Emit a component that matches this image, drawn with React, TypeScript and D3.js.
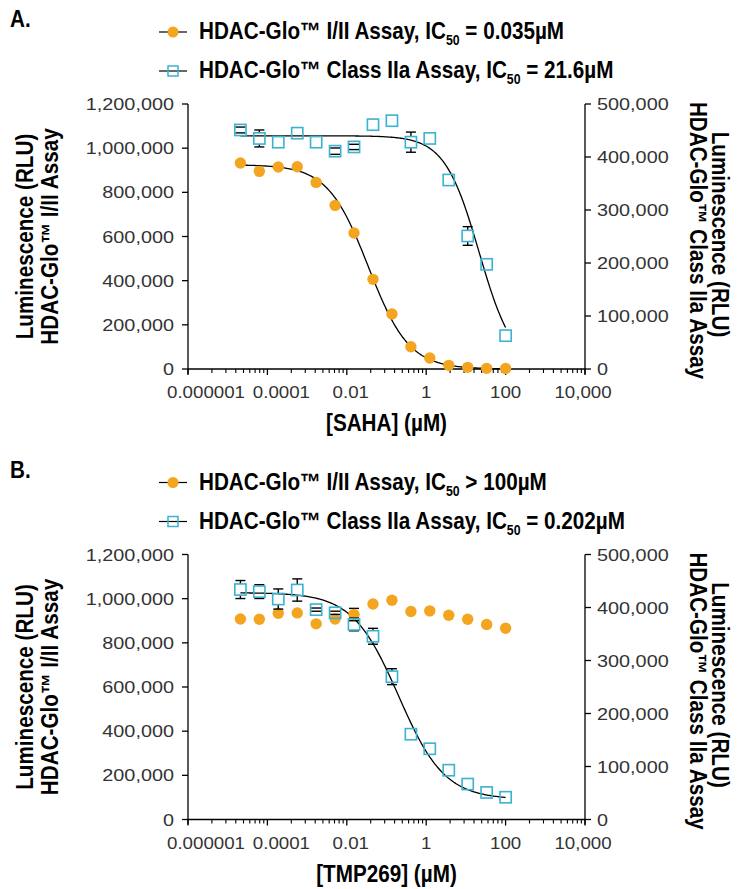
import React from 'react';
import * as d3 from 'd3';

// ---------- data ----------
const concentrations = [0.0000209, 0.0000627, 0.000188, 0.000565, 0.00169, 0.00508, 0.0152, 0.0457, 0.137, 0.412, 1.23, 3.7, 11.1, 33.3, 100];

// Panel A: SAHA
const sahaClassI = [932800, 895000, 914700, 916000, 845000, 741000, 616000, 406000, 249000, 101000, 50000, 16600, 7500, 3000, 2000];
const sahaClassIErr = [0, 0, 0, 0, 0, 0, 0, 0, 0, 0, 0, 0, 0, 0, 0];
const sahaClassIIa = [451000, 435000, 428000, 445000, 428000, 411000, 419000, 461000, 468500, 428000, 435000, 356600, 251000, 197500, 62900];
const sahaClassIIaErr = [5500, 16000, 0, 0, 0, 6000, 5000, 0, 0, 19000, 0, 0, 17600, 0, 0];

// Panel B: TMP269
const tmpClassI = [908000, 907000, 934000, 935500, 886000, 908000, 928000, 976000, 993000, 941600, 944600, 925000, 907000, 883000, 866000];
const tmpClassIErr = [0, 0, 0, 0, 0, 0, 28000, 0, 0, 0, 0, 0, 0, 0, 0];
const tmpClassIIa = [433900, 430000, 416000, 433000, 396000, 390000, 368000, 345700, 269500, 161000, 133500, 93000, 66800, 51000, 42000];
const tmpClassIIaErr = [17000, 13000, 19000, 21000, 3000, 3000, 12000, 15000, 15000, 0, 0, 0, 0, 0, 0];

// 4-parameter logistic fit parameters
const sahaFitI = { top: 925000, bottom: 0, ic50: 0.035, hill: 0.85 };
const sahaFitIIa = { top: 440000, bottom: 0, ic50: 21.6, hill: 1.0 };
const tmpFitIIa = { top: 428000, bottom: 38000, ic50: 0.202, hill: 0.75 };

const xTickValues = [1e-6, 1e-4, 1e-2, 1, 100, 1e4];
const xTickLabels = ['0.000001', '0.0001', '0.01', '1', '100', '10,000'];
const leftTicks = [0, 200000, 400000, 600000, 800000, 1000000, 1200000];
const rightTicks = [0, 100000, 200000, 300000, 400000, 500000];

// ---------- style ----------
const ORANGE = '#F4A520';
const BLUE = '#3BB2D0';
const TICK_FONT = '"Liberation Sans", Arial, Helvetica, sans-serif';
const BOLD_FONT = '"Liberation Sans", Arial, Helvetica, sans-serif';
const TICK_SIZE = 16;
const TICK_SX = 1.17;
const YTICK_SX = 1.24;
const BOLD_SIZE = 23.5;
const BOLD_SX = 0.88;

const X0 = 188;
const X1 = 585;

function SText({ x, y, sx = 1, rotate = 0, anchor = 'start', size, weight = 'normal', fill = '#000', family, children }: any) {
  return (
    <text
      transform={`translate(${x},${y}) rotate(${rotate}) scale(${sx},1)`}
      textAnchor={anchor}
      fontSize={size}
      fontWeight={weight}
      fill={fill}
      fontFamily={family}
    >
      {children}
    </text>
  );
}

function fit4pl(p: any, x: number) {
  return p.bottom + (p.top - p.bottom) / (1 + Math.pow(x / p.ic50, p.hill));
}

function LegendLine({ y, kind, pre, post }: any) {
  return (
    <g>
      <line x1={159} x2={187} y1={y} y2={y} stroke="#000" strokeWidth={1.2} />
      {kind === 'circle' ? (
        <circle cx={173} cy={y} r={5.5} fill={ORANGE} />
      ) : (
        <rect x={173 - 5} y={y - 5} width={10} height={10} fill="none" stroke={BLUE} strokeWidth={1.5} />
      )}
      <SText x={199} y={y + 7} sx={BOLD_SX} size={BOLD_SIZE} weight="bold" family={BOLD_FONT}>
        {pre}
        <tspan fontSize={14} dy={6}>50</tspan>
        <tspan dy={-6}>{post}</tspan>
      </SText>
    </g>
  );
}

function Panel({ yTop, yBottom, letter, legend, xTitle, classI, classIErr, classIIa, classIIaErr, fitI, fitIIa }: any) {
  const x = d3.scaleLog().domain([1e-6, 1e4]).range([X0, X1]);
  const yL = d3.scaleLinear().domain([0, 1200000]).range([yBottom, yTop]);
  const yR = d3.scaleLinear().domain([0, 500000]).range([yBottom, yTop]);
  const fmt = d3.format(',');

  // minor ticks: within each 2-decade major interval
  const minor: number[] = [];
  for (let i = 0; i < xTickValues.length - 1; i++) {
    for (let k = 2; k <= 9; k++) minor.push(xTickValues[i] * k * k);
  }

  const cmin = d3.min(concentrations) as number;
  const cmax = d3.max(concentrations) as number;
  const samples = d3.range(0, 201).map((i) => Math.pow(10, Math.log10(cmin) + (Math.log10(cmax) - Math.log10(cmin)) * (i / 200)));
  const line = (p: any, ys: any) =>
    d3.line<number>().x((c) => x(c)).y((c) => ys(fit4pl(p, c))).curve(d3.curveLinear)(samples) || '';

  const half = 5.6;
  const errBar = (cx: number, cy: number, e: number, ys: any, inner: number, key: string) => {
    if (!e) return null;
    const yt = ys(ys.invert(cy) + e);
    const yb = ys(ys.invert(cy) - e);
    return (
      <g key={key} stroke="#000" strokeWidth={1.4}>
        {cy - yt > inner && <line x1={cx} x2={cx} y1={yt} y2={cy - inner} />}
        {yb - cy > inner && <line x1={cx} x2={cx} y1={cy + inner} y2={yb} />}
        <line x1={cx - 5} x2={cx + 5} y1={yt} y2={yt} />
        <line x1={cx - 5} x2={cx + 5} y1={yb} y2={yb} />
      </g>
    );
  };

  const midY = (yTop + yBottom) / 2;

  return (
    <g>
      {/* panel letter */}
      <SText x={10} y={yTop - 77} sx={BOLD_SX} size={BOLD_SIZE} weight="bold" family={BOLD_FONT}>{letter}</SText>
      {/* legend */}
      <LegendLine y={yTop - 72} kind="circle" pre={legend[0][0]} post={legend[0][1]} />
      <LegendLine y={yTop - 33} kind="square" pre={legend[1][0]} post={legend[1][1]} />

      {/* axes */}
      <g stroke="#000" strokeWidth={1.3} fill="none">
        <line x1={X0} x2={X0} y1={yTop} y2={yBottom + 5} />
        <line x1={X1} x2={X1} y1={yTop} y2={yBottom + 5} />
        <line x1={X0} x2={X1} y1={yBottom} y2={yBottom} />
        {leftTicks.map((t) => (
          <line key={'lt' + t} x1={X0 - 6} x2={X0} y1={yL(t)} y2={yL(t)} />
        ))}
        {rightTicks.map((t) => (
          <line key={'rt' + t} x1={X1} x2={X1 + 6} y1={yR(t)} y2={yR(t)} />
        ))}
        {xTickValues.map((t) => (
          <line key={'xt' + t} x1={x(t)} x2={x(t)} y1={yBottom} y2={yBottom + 6} />
        ))}
        {minor.map((t, i) => (
          <line key={'mt' + i} x1={x(t)} x2={x(t)} y1={yBottom} y2={yBottom + 4} strokeWidth={1.1} />
        ))}
      </g>

      {/* tick labels */}
      {leftTicks.map((t) => (
        <SText key={'ll' + t} x={174} y={yL(t) + 6} sx={YTICK_SX} anchor="end" size={TICK_SIZE} fill="#333" family={TICK_FONT}>
          {fmt(t)}
        </SText>
      ))}
      {rightTicks.map((t) => (
        <SText key={'rl' + t} x={597} y={yR(t) + 6} sx={YTICK_SX} anchor="start" size={TICK_SIZE} fill="#333" family={TICK_FONT}>
          {fmt(t)}
        </SText>
      ))}
      {xTickValues.map((t, i) => (
        <SText key={'xl' + t} x={x(t) + (i === 0 ? 18 : i === 1 ? 14 : i === 2 ? 4 : 0) - (i === 5 ? 2 : 0)} y={yBottom + 29} sx={TICK_SX} anchor="middle" size={TICK_SIZE} fill="#333" family={TICK_FONT}>
          {xTickLabels[i]}
        </SText>
      ))}

      {/* axis titles */}
      <SText x={(X0 + X1) / 2} y={yBottom + 62} sx={BOLD_SX} anchor="middle" size={BOLD_SIZE} weight="bold" family={BOLD_FONT}>{xTitle}</SText>
      <SText x={33} y={midY} rotate={-90} sx={BOLD_SX} anchor="middle" size={BOLD_SIZE} weight="bold" family={BOLD_FONT}>Luminescence (RLU)</SText>
      <SText x={58} y={midY} rotate={-90} sx={BOLD_SX} anchor="middle" size={BOLD_SIZE} weight="bold" family={BOLD_FONT}>HDAC-Glo™ I/II Assay</SText>
      <SText x={712} y={midY - 2} rotate={90} sx={BOLD_SX} anchor="middle" size={BOLD_SIZE} weight="bold" family={BOLD_FONT}>Luminescence (RLU)</SText>
      <SText x={690} y={midY + 4} rotate={90} sx={BOLD_SX} anchor="middle" size={BOLD_SIZE} weight="bold" family={BOLD_FONT}>HDAC-Glo™ Class IIa Assay</SText>

      {/* fit curves */}
      {fitI && <path d={line(fitI, yL)} fill="none" stroke="#000" strokeWidth={1.3} />}
      {fitIIa && <path d={line(fitIIa, yR)} fill="none" stroke="#000" strokeWidth={1.3} />}

      {/* Class I/II circles */}
      {concentrations.map((c, i) => errBar(x(c), yL(classI[i]), classIErr[i], yL, 0, 'e1' + i))}
      {concentrations.map((c, i) => (
        <circle key={'c' + i} cx={x(c)} cy={yL(classI[i])} r={5.7} fill={ORANGE} />
      ))}

      {/* Class IIa squares */}
      {concentrations.map((c, i) => errBar(x(c), yR(classIIa[i]), classIIaErr[i], yR, half, 'e2' + i))}
      {concentrations.map((c, i) => (
        <rect key={'s' + i} x={x(c) - half} y={yR(classIIa[i]) - half} width={half * 2} height={half * 2} fill="none" stroke={BLUE} strokeWidth={1.6} />
      ))}
    </g>
  );
}

export default function App() {
  return (
    <svg width={738} height={889} style={{ position: 'absolute', left: 0, top: 0, background: '#fff' }}>
      <rect x={0} y={0} width={738} height={889} fill="#fff" />
      <Panel
        yTop={104}
        yBottom={369}
        letter="A."
        legend={[
          ['HDAC-Glo™ I/II Assay, IC', ' = 0.035µM'],
          ['HDAC-Glo™ Class IIa Assay, IC', ' = 21.6µM'],
        ]}
        xTitle="[SAHA] (µM)"
        classI={sahaClassI}
        classIErr={sahaClassIErr}
        classIIa={sahaClassIIa}
        classIIaErr={sahaClassIIaErr}
        fitI={sahaFitI}
        fitIIa={sahaFitIIa}
      />
      <Panel
        yTop={554.5}
        yBottom={819.5}
        letter="B."
        legend={[
          ['HDAC-Glo™ I/II Assay, IC', ' > 100µM'],
          ['HDAC-Glo™ Class IIa Assay, IC', ' = 0.202µM'],
        ]}
        xTitle="[TMP269] (µM)"
        classI={tmpClassI}
        classIErr={tmpClassIErr}
        classIIa={tmpClassIIa}
        classIIaErr={tmpClassIIaErr}
        fitI={null}
        fitIIa={tmpFitIIa}
      />
    </svg>
  );
}
